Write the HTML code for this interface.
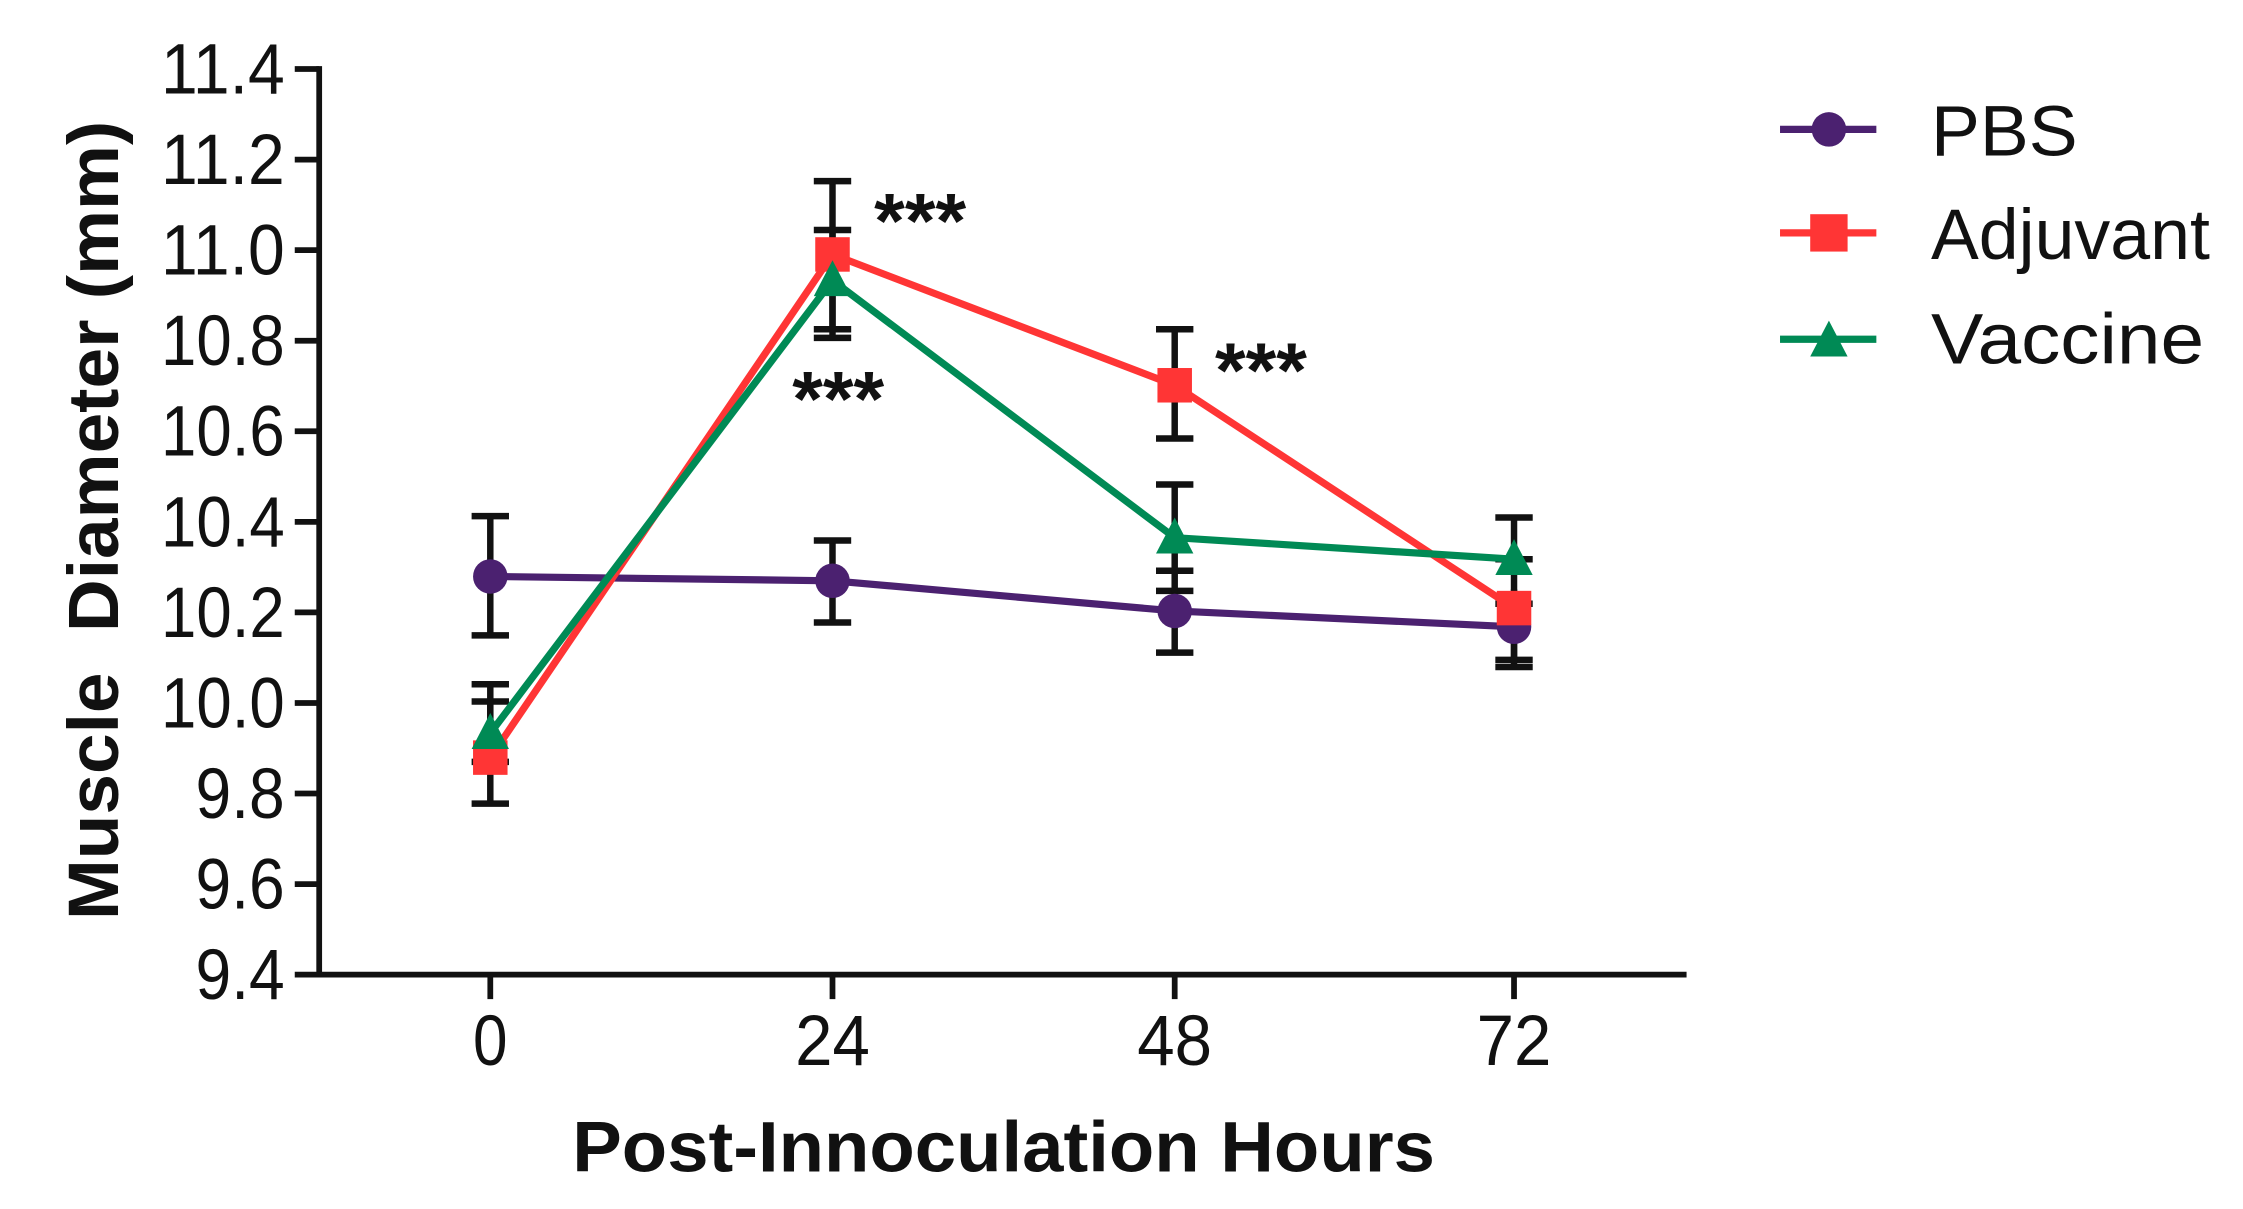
<!DOCTYPE html>
<html><head><style>html,body{margin:0;padding:0;background:#fff}svg{display:block}</style></head>
<body>
<svg width="2243" height="1209" viewBox="0 0 1560 841" preserveAspectRatio="none" xmlns="http://www.w3.org/2000/svg" font-family="Liberation Sans, Arial, sans-serif">
<rect width="1560" height="841" fill="#fff"/>
<g stroke="#111" stroke-width="4" fill="none">
<line x1="222" y1="46" x2="222" y2="680"/>
<line x1="205" y1="678" x2="1173" y2="678"/>
<line x1="205" y1="48" x2="222" y2="48"/>
<line x1="205" y1="111" x2="222" y2="111"/>
<line x1="205" y1="174" x2="222" y2="174"/>
<line x1="205" y1="237" x2="222" y2="237"/>
<line x1="205" y1="300" x2="222" y2="300"/>
<line x1="205" y1="363" x2="222" y2="363"/>
<line x1="205" y1="426" x2="222" y2="426"/>
<line x1="205" y1="489" x2="222" y2="489"/>
<line x1="205" y1="552" x2="222" y2="552"/>
<line x1="205" y1="615" x2="222" y2="615"/>
<line x1="341" y1="678" x2="341" y2="695"/>
<line x1="579" y1="678" x2="579" y2="695"/>
<line x1="817" y1="678" x2="817" y2="695"/>
<line x1="1053" y1="678" x2="1053" y2="695"/>
</g>
<g font-size="50" fill="#111" text-anchor="end">
<text x="198" y="65" textLength="86" lengthAdjust="spacingAndGlyphs">11.4</text>
<text x="198" y="128" textLength="86" lengthAdjust="spacingAndGlyphs">11.2</text>
<text x="198" y="191" textLength="86" lengthAdjust="spacingAndGlyphs">11.0</text>
<text x="198" y="254" textLength="86" lengthAdjust="spacingAndGlyphs">10.8</text>
<text x="198" y="317" textLength="86" lengthAdjust="spacingAndGlyphs">10.6</text>
<text x="198" y="380" textLength="86" lengthAdjust="spacingAndGlyphs">10.4</text>
<text x="198" y="443" textLength="86" lengthAdjust="spacingAndGlyphs">10.2</text>
<text x="198" y="506" textLength="86" lengthAdjust="spacingAndGlyphs">10.0</text>
<text x="198" y="569" textLength="62" lengthAdjust="spacingAndGlyphs">9.8</text>
<text x="198" y="632" textLength="62" lengthAdjust="spacingAndGlyphs">9.6</text>
<text x="198" y="695" textLength="62" lengthAdjust="spacingAndGlyphs">9.4</text>
</g>
<g font-size="50" fill="#111" text-anchor="middle">
<text x="341" y="741" textLength="24" lengthAdjust="spacingAndGlyphs">0</text>
<text x="579" y="741" textLength="52" lengthAdjust="spacingAndGlyphs">24</text>
<text x="817" y="741" textLength="52" lengthAdjust="spacingAndGlyphs">48</text>
<text x="1053" y="741" textLength="52" lengthAdjust="spacingAndGlyphs">72</text>
</g>
<text x="698" y="815" font-size="50" font-weight="bold" fill="#111" text-anchor="middle" textLength="600" lengthAdjust="spacingAndGlyphs">Post-Innoculation Hours</text>
<text transform="translate(82,362) rotate(-90)" font-size="50" font-weight="bold" fill="#111" text-anchor="middle" textLength="556" lengthAdjust="spacingAndGlyphs" xml:space="preserve">Muscle  Diameter (mm)</text>
<g stroke="#111" stroke-width="4.5">
<line x1="341" y1="359" x2="341" y2="442"/><line x1="328" y1="359" x2="354" y2="359"/><line x1="328" y1="442" x2="354" y2="442"/>
<line x1="579" y1="376" x2="579" y2="433"/><line x1="566" y1="376" x2="592" y2="376"/><line x1="566" y1="433" x2="592" y2="433"/>
<line x1="817" y1="411" x2="817" y2="454"/><line x1="804" y1="411" x2="830" y2="411"/><line x1="804" y1="454" x2="830" y2="454"/>
<line x1="1053" y1="424" x2="1053" y2="459"/><line x1="1040" y1="459" x2="1066" y2="459"/>
<line x1="341" y1="488" x2="341" y2="559"/><line x1="328" y1="488" x2="354" y2="488"/><line x1="328" y1="559" x2="354" y2="559"/>
<line x1="579" y1="126" x2="579" y2="229"/><line x1="566" y1="126" x2="592" y2="126"/><line x1="566" y1="229" x2="592" y2="229"/>
<line x1="817" y1="229" x2="817" y2="305"/><line x1="804" y1="229" x2="830" y2="229"/><line x1="804" y1="305" x2="830" y2="305"/>
<line x1="1053" y1="410" x2="1053" y2="464"/><line x1="1040" y1="420" x2="1066" y2="420"/><line x1="1040" y1="464" x2="1066" y2="464"/>
<line x1="341" y1="476" x2="341" y2="530"/><line x1="328" y1="476" x2="354" y2="476"/><line x1="328" y1="530" x2="354" y2="530"/>
<line x1="579" y1="160" x2="579" y2="235"/><line x1="566" y1="160" x2="592" y2="160"/><line x1="566" y1="235" x2="592" y2="235"/>
<line x1="817" y1="337" x2="817" y2="412"/><line x1="804" y1="337" x2="830" y2="337"/><line x1="804" y1="397" x2="830" y2="397"/>
<line x1="1053" y1="360" x2="1053" y2="417"/><line x1="1040" y1="360" x2="1066" y2="360"/><line x1="1040" y1="389" x2="1066" y2="389"/>
</g>
<polyline points="341,401 579,404 817,425 1053,436" fill="none" stroke="#4b2170" stroke-width="5"/>
<polyline points="341,527 579,177 817,268 1053,423" fill="none" stroke="#ff3535" stroke-width="5"/>
<polyline points="341,510 579,195 817,374 1053,389" fill="none" stroke="#008a55" stroke-width="5"/>
<g fill="#4b2170"><circle cx="341" cy="401" r="12"/><circle cx="579" cy="404" r="12"/><circle cx="817" cy="425" r="12"/><circle cx="1053" cy="436" r="12"/></g>
<g fill="#ff3535"><rect x="329" y="515" width="24" height="24"/><rect x="567" y="165" width="24" height="24"/><rect x="805" y="256" width="24" height="24"/><rect x="1041" y="411" width="24" height="24"/></g>
<g fill="#008a55"><polygon points="341,496 328,521 354,521"/><polygon points="579,181 566,206 592,206"/><polygon points="817,360 804,385 830,385"/><polygon points="1053,375 1040,400 1066,400"/></g>
<g font-size="54" font-weight="bold" fill="#111">
<text x="608" y="172" textLength="64" lengthAdjust="spacingAndGlyphs">***</text>
<text x="551" y="296" textLength="64" lengthAdjust="spacingAndGlyphs">***</text>
<text x="845" y="276" textLength="64" lengthAdjust="spacingAndGlyphs">***</text>
</g>
<line x1="1238" y1="90" x2="1305" y2="90" stroke="#4b2170" stroke-width="5"/><circle cx="1272" cy="90" r="12" fill="#4b2170"/>
<line x1="1238" y1="162" x2="1305" y2="162" stroke="#ff3535" stroke-width="5"/><rect x="1259" y="149" width="26" height="26" fill="#ff3535"/>
<line x1="1238" y1="236" x2="1305" y2="236" stroke="#008a55" stroke-width="5"/><polygon points="1272,223 1259,248 1285,248" fill="#008a55"/>
<g font-size="50" fill="#111">
<text x="1343" y="108" textLength="102" lengthAdjust="spacingAndGlyphs">PBS</text>
<text x="1343" y="180" textLength="194" lengthAdjust="spacingAndGlyphs">Adjuvant</text>
<text x="1343" y="253" textLength="190" lengthAdjust="spacingAndGlyphs">Vaccine</text>
</g>
</svg>
</body></html>
